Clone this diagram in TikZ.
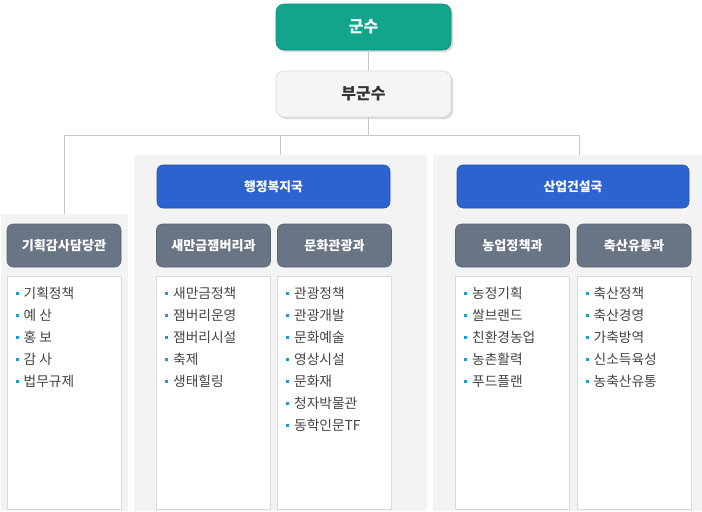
\documentclass[tikz,border=0pt]{standalone}
\usepackage{fontspec}
\setmainfont{Noto Sans CJK KR}
\usetikzlibrary{positioning,calc,shadows}

\definecolor{gunsuteal}{RGB}{18,165,140}
\definecolor{gukblue}{RGB}{45,99,208}
\definecolor{deptgray}{RGB}{105,117,132}
\definecolor{panelbg}{RGB}{243,243,243}
\definecolor{linegray}{RGB}{200,200,200}
\definecolor{listline}{RGB}{218,218,218}
\definecolor{bulblue}{RGB}{26,156,216}
\definecolor{itemtext}{RGB}{68,68,68}

\newcommand{\bul}{\textcolor{bulblue}{\rule[2.7pt]{2.3pt}{2.3pt}}\hspace{3.6pt}}

\tikzset{
  topbox/.style={rounded corners=6pt, minimum width=131.25pt, minimum height=34.5pt,
    inner sep=0pt, font=\fontsize{12}{14}\selectfont\bfseries,
    drop shadow={shadow xshift=1.5pt, shadow yshift=-1.5pt, fill=black!14, opacity=1}},
  gukbox/.style={rounded corners=4.5pt, fill=gukblue, draw=gukblue!80!black,
    minimum height=32.25pt, inner sep=0pt, text=white,
    font=\fontsize{9.6}{11}\selectfont\bfseries},
  deptbox/.style={rounded corners=4.5pt, fill=deptgray, draw=deptgray!85!black,
    minimum width=85.5pt, minimum height=32.25pt, inner sep=0pt, text=white,
    font=\fontsize{9.8}{11}\selectfont\bfseries},
  listbox/.style={fill=white, draw=listline, line width=0.75pt,
    minimum width=85.5pt, minimum height=174.75pt, inner sep=0pt},
  panel/.style={fill=panelbg, inner sep=0pt},
  item/.style={anchor=west, inner sep=0pt, text=itemtext,
    font=\fontsize{10.3}{12}\selectfont},
  link/.style={draw=linegray, line width=0.75pt}
}

\begin{document}
\begin{tikzpicture}[x=0.75pt,y=-0.75pt]
  \useasboundingbox (0,0) rectangle (702,511);
  \clip (0,0) rectangle (702,511);

  % panels behind the bureaus
  \node[panel, minimum width=95.25pt, minimum height=222.75pt] (panelL) at (64.5,362.5) {};
  \node[panel, minimum width=219.75pt, minimum height=267pt] (panelM) at (280.5,333) {};
  \node[panel, minimum width=219.75pt, minimum height=267pt] (panelR) at (579.5,333) {};

  % top of the chart
  \node[topbox, fill=gunsuteal, draw=gunsuteal!85!black, text=white] (gunsu) at (363.5,27) {군수};
  \node[topbox, fill=black!4, draw=black!16, text=black!80] (bugunsu) at (363.5,94) {부군수};

  \coordinate (spine) at (368,0);
  \coordinate (bar) at (0,135);
  \draw[link] (gunsu.south -| spine) -- (bugunsu.north -| spine);
  \draw[link] (bugunsu.south -| spine) -- (spine |- bar);
  \draw[link] (panelL.north) -- (panelL.north |- bar) -- (panelR.north |- bar) -- (panelR.north);
  \draw[link] (panelM.north) -- (panelM.north |- bar);

  % bureaus
  \node[gukbox, minimum width=174.75pt] (gukHaeng) at (273.5,186.5) {행정복지국};
  \node[gukbox, minimum width=174pt] (gukSan) at (573,186.5) {산업건설국};

  % departments
  \node[deptbox] (deptGam) at (64,245.5) {기획감사담당관};
  \node[deptbox] (deptSae) at (213.5,245.5) {새만금잼버리과};
  \node[deptbox] (deptMun) at (334.5,245.5) {문화관광과};
  \node[deptbox] (deptNong) at (512.5,245.5) {농업정책과};
  \node[deptbox] (deptChuk) at (634,245.5) {축산유통과};

  % task lists
  \node[listbox, below=6.75pt of deptGam] (listGam) {};
  \node[listbox, below=6.75pt of deptSae] (listSae) {};
  \node[listbox, below=6.75pt of deptMun] (listMun) {};
  \node[listbox, below=6.75pt of deptNong] (listNong) {};
  \node[listbox, below=6.75pt of deptChuk] (listChuk) {};

  \foreach \t [count=\i] in {기획정책,예 산,홍 보,감 사,법무규제}
    \node[item] (gam\i) at ($(listGam.north west)+(9,17+22*\i-22)$) {\bul\t};
  \foreach \t [count=\i] in {새만금정책,잼버리운영,잼버리시설,축제,생태힐링}
    \node[item] (sae\i) at ($(listSae.north west)+(9,17+22*\i-22)$) {\bul\t};
  \foreach \t [count=\i] in {관광정책,관광개발,문화예술,영상시설,문화재,청자박물관,동학인문TF}
    \node[item] (mun\i) at ($(listMun.north west)+(9,17+22*\i-22)$) {\bul\t};
  \foreach \t [count=\i] in {농정기획,쌀브랜드,친환경농업,농촌활력,푸드플랜}
    \node[item] (nong\i) at ($(listNong.north west)+(9,17+22*\i-22)$) {\bul\t};
  \foreach \t [count=\i] in {축산정책,축산경영,가축방역,신소득육성,농축산유통}
    \node[item] (chuk\i) at ($(listChuk.north west)+(9,17+22*\i-22)$) {\bul\t};
\end{tikzpicture}
\end{document}
